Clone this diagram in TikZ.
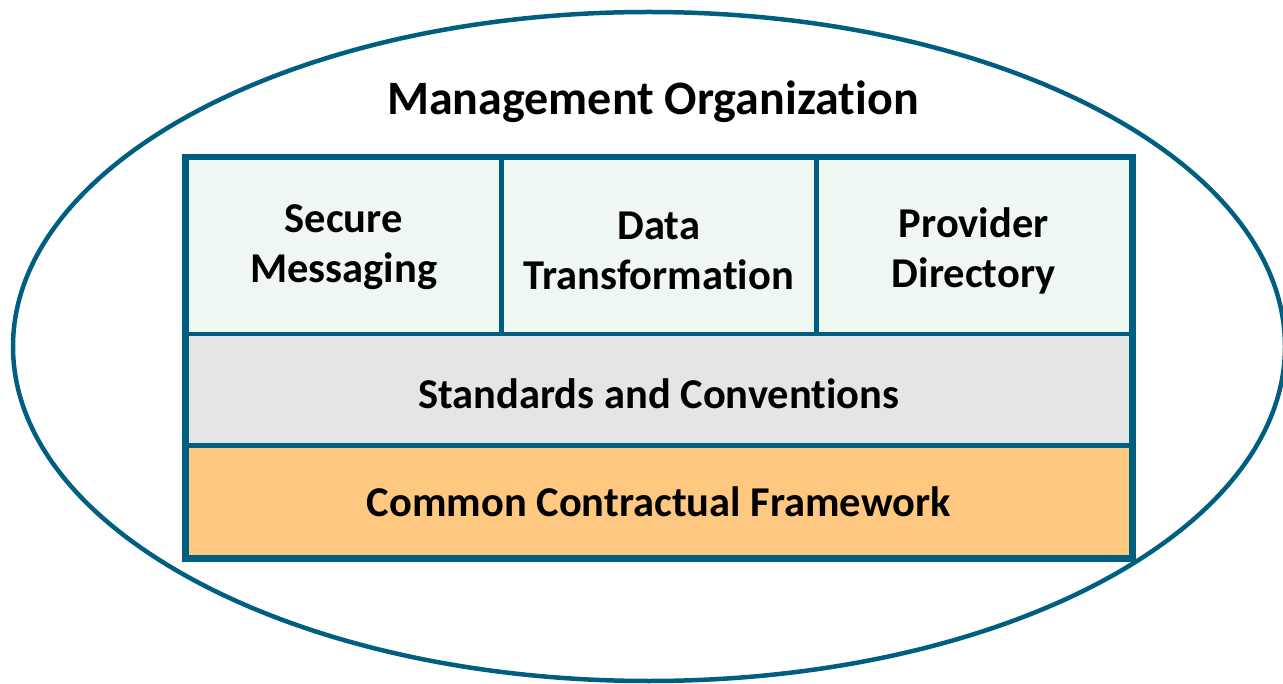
\documentclass[tikz,border=0pt]{standalone}
\usepackage{fontspec}
\setmainfont{Carlito}[Ligatures=NoCommon]
\definecolor{rim}{RGB}{0,95,128}
\definecolor{paleteal}{RGB}{238,247,242}
\definecolor{lightgray}{RGB}{229,229,229}
\definecolor{apricot}{RGB}{255,200,128}
\begin{document}
\begin{tikzpicture}[x=1pt,y=-1pt,
  cell/.style={draw=rim,line width=4.5pt,anchor=north west,inner sep=0pt,
    minimum width=315pt,minimum height=176pt},
  band/.style={cell,minimum width=945pt,minimum height=111.5pt},
  lbl/.style={align=center,font=\bfseries\fontsize{42.5}{50}\selectfont}]
\useasboundingbox (0,0) rectangle (1283,684);
\draw[rim,line width=4.5pt] (649,346.5) ellipse [x radius=636pt,y radius=334.5pt];
\node[font=\bfseries\fontsize{48}{58}\selectfont] (title) at (653,102) {Management Organization};
\node[cell,fill=paleteal] (secure) at (184,156) {};
\node[cell,fill=paleteal] (transform) at (499,156) {};
\node[cell,fill=paleteal] (directory) at (814,156) {};
\node[band,fill=lightgray] (standards) at (184,332) {};
\node[band,fill=apricot] (contract) at (184,443.5) {};
\draw[rim,line width=4.5pt] (secure.north west) rectangle (contract.south east);
\node[lbl] at ([yshift=-1pt]secure.center) {Secure\\Messaging};
\node[lbl] at ([yshift=-5pt]transform.center) {Data\\Transformation};
\node[lbl] at ([yshift=-5pt]directory.center) {Provider\\Directory};
\node[lbl] at ([yshift=-4pt]standards.center) {Standards and Conventions};
\node[lbl] at (contract.center) {Common Contractual Framework};
\end{tikzpicture}
\end{document}
